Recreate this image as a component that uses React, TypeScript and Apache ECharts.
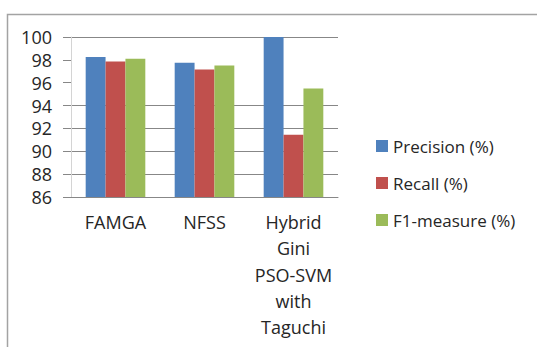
import React, { useEffect, useRef } from "react";
import * as echarts from "echarts";

const categories = ["FAMGA", "NFSS", "Hybrid\nGini\nPSO-SVM\nwith\nTaguchi"];
const seriesNames = ["Precision (%)", "Recall (%)", "F1-measure (%)"];
const precision = [98.25, 97.75, 100];
const recall = [97.85, 97.15, 91.45];
const f1Measure = [98.1, 97.5, 95.5];
const seriesColors = ["#4F81BD", "#C0504D", "#9BBB59"];

const FONT = "'Open Sans', sans-serif";
const GRID = "#878787";
const NONE = "rgba(0,0,0,0)";

export default function App() {
  const ref = useRef<HTMLDivElement>(null);

  useEffect(() => {
    if (!ref.current) return;
    const chart = echarts.init(ref.current, undefined, { renderer: "svg" });
    const values = [precision, recall, f1Measure];
    chart.setOption({
      animation: false,
      backgroundColor: "#ffffff",
      textStyle: { fontFamily: FONT },
      graphic: [
        {
          type: "rect",
          shape: { x: 7.5, y: 14.5, width: 620, height: 420 },
          style: { fill: "none", stroke: "#a3a3a3", lineWidth: 1.5 },
          silent: true,
          z: 0,
        },
      ],
      grid: { left: 71, right: 199, top: 37, bottom: 150, containLabel: false },
      legend: {
        orient: "vertical",
        left: 371,
        top: 131,
        icon: "rect",
        itemWidth: 12,
        itemHeight: 12,
        itemGap: 17,
        data: seriesNames,
        textStyle: { fontFamily: FONT, fontSize: 17, color: "#262626", lineHeight: 20 },
      },
      xAxis: {
        type: "category",
        data: categories,
        axisLine: { lineStyle: { color: GRID, width: 1 } },
        axisTick: { length: 6, lineStyle: { color: GRID } },
        axisLabel: {
          interval: 0,
          margin: 12,
          fontFamily: FONT,
          fontSize: 18,
          lineHeight: 26.3,
          color: "#262626",
        },
      },
      yAxis: {
        type: "value",
        min: 86,
        max: 100,
        interval: 2,
        axisLine: { show: true, lineStyle: { color: "#d4d4d4", width: 1 } },
        axisTick: { show: true, length: 8, lineStyle: { color: GRID } },
        axisLabel: { margin: 19, fontFamily: FONT, fontSize: 18, color: "#262626" },
        splitLine: {
          lineStyle: { color: [GRID, GRID, GRID, GRID, GRID, NONE, NONE, GRID], width: 1 },
        },
      },
      series: seriesNames.map((name, i) => ({
        name,
        type: "bar",
        data: values[i],
        barGap: "0%",
        barCategoryGap: "33%",
        itemStyle: { color: seriesColors[i] },
      })),
    });
    return () => chart.dispose();
  }, []);

  return (
    <div
      ref={ref}
      style={{ position: "absolute", left: 0, top: 0, width: 537, height: 347 }}
    />
  );
}
